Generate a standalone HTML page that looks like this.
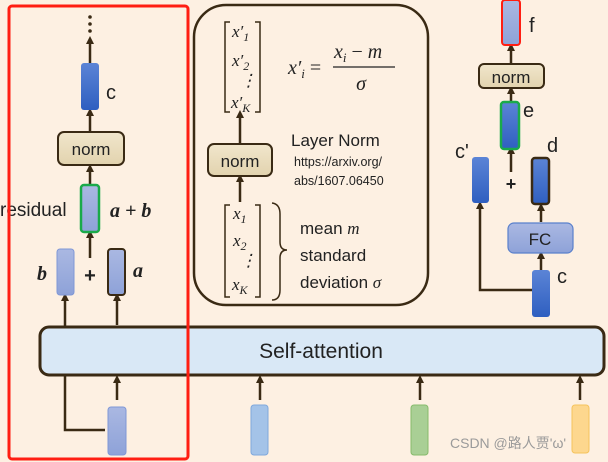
<!DOCTYPE html>
<html><head><meta charset="utf-8"><style>
html,body{margin:0;padding:0;background:#fdf0e2;}
svg{display:block;}
text{font-family:"Liberation Sans",sans-serif;fill:#222;}
.m{font-family:"Liberation Serif",serif;font-style:italic;}
</style></head><body>
<svg width="608" height="462" viewBox="0 0 608 462" xmlns="http://www.w3.org/2000/svg">
<defs>
<linearGradient id="db" x1="0" y1="0" x2="0" y2="1"><stop offset="0" stop-color="#5b84d6"/><stop offset="1" stop-color="#2f5fc0"/></linearGradient>
<linearGradient id="lb" x1="0" y1="0" x2="0" y2="1"><stop offset="0" stop-color="#aab8e2"/><stop offset="1" stop-color="#8ea2d8"/></linearGradient>
<linearGradient id="nm" x1="0" y1="0" x2="0" y2="1"><stop offset="0" stop-color="#f1e6cc"/><stop offset="1" stop-color="#e2d3ae"/></linearGradient>
<marker id="ar" markerWidth="8" markerHeight="8" refX="4" refY="4" orient="auto" markerUnits="userSpaceOnUse"><path d="M0,0 L8,4 L0,8 z" fill="#3a2a14"/></marker>
</defs>
<g stroke="#3a2a14" stroke-width="2.5" fill="none">
<!-- left column arrows -->
<line x1="90" y1="63" x2="90" y2="40" marker-end="url(#ar)"/>
<line x1="90" y1="132" x2="90" y2="112" marker-end="url(#ar)"/>
<line x1="90" y1="185" x2="90" y2="168" marker-end="url(#ar)"/>
<line x1="90" y1="258" x2="90" y2="234" marker-end="url(#ar)"/>
<line x1="117" y1="325" x2="117" y2="297" marker-end="url(#ar)"/>
<polyline points="105,430 65,430 65,297" marker-end="url(#ar)"/>
<line x1="117" y1="400" x2="117" y2="379" marker-end="url(#ar)"/>
<line x1="260" y1="400" x2="260" y2="379" marker-end="url(#ar)"/>
<line x1="420" y1="400" x2="420" y2="379" marker-end="url(#ar)"/>
<line x1="580" y1="400" x2="580" y2="379" marker-end="url(#ar)"/>
<!-- middle arrows -->
<line x1="240" y1="144" x2="240" y2="114" marker-end="url(#ar)"/>
<line x1="240" y1="202" x2="240" y2="178" marker-end="url(#ar)"/>
<!-- right arrows -->
<line x1="511" y1="63" x2="511" y2="47" marker-end="url(#ar)"/>
<line x1="511" y1="101" x2="511" y2="90" marker-end="url(#ar)"/>
<line x1="511" y1="172" x2="511" y2="150" marker-end="url(#ar)"/>
<line x1="541" y1="222" x2="541" y2="207" marker-end="url(#ar)"/>
<line x1="541" y1="270" x2="541" y2="255" marker-end="url(#ar)"/>
<polyline points="532,290 480,290 480,205" marker-end="url(#ar)"/>
</g>
<!-- dots -->
<g fill="#3a2a14"><circle cx="90" cy="17" r="1.8"/><circle cx="90" cy="24" r="1.8"/><circle cx="90" cy="31" r="1.8"/></g>
<!-- left column -->
<rect x="81" y="63" width="18" height="47" rx="3" fill="url(#db)"/>
<text x="106" y="99" font-size="20" fill="#333">c</text>
<rect x="58" y="132" width="66" height="33" rx="6" fill="url(#nm)" stroke="#3a2a14" stroke-width="2"/>
<text x="91" y="155" font-size="17" text-anchor="middle">norm</text>
<rect x="81" y="185" width="18" height="47" rx="3" fill="url(#lb)" stroke="#1aaa4a" stroke-width="2.5"/>
<text x="0" y="216" font-size="19">residual</text>
<text x="110" y="217" font-size="20" class="m" font-weight="bold">a + b</text>
<rect x="57" y="249" width="17" height="46" rx="3" fill="url(#lb)" stroke="#7f97d6" stroke-width="1"/>
<text x="37" y="280" font-size="20" class="m" font-weight="bold">b</text>
<text x="90" y="282" font-size="20" font-weight="bold" text-anchor="middle">+</text>
<rect x="108" y="249" width="17" height="46" rx="3" fill="url(#lb)" stroke="#3a2a14" stroke-width="2"/>
<text x="133" y="277" font-size="20" class="m" font-weight="bold">a</text>
<!-- self-attention -->
<rect x="40" y="327" width="564" height="48" rx="9" fill="#d9e8f6" stroke="#3a2a14" stroke-width="3"/>
<text x="321" y="358" font-size="21" text-anchor="middle">Self-attention</text>
<!-- bottom bars -->
<rect x="108" y="407" width="18" height="48" rx="3" fill="url(#lb)" stroke="#7f97d6"/>
<rect x="251" y="405" width="17" height="50" rx="3" fill="#a4c3e8" stroke="#7fa8dc"/>
<rect x="411" y="405" width="17" height="50" rx="3" fill="#a9cf95" stroke="#86bb6c"/>
<rect x="572" y="405" width="17" height="48" rx="3" fill="#fdd78e" stroke="#f5c35c"/>
<!-- red box -->
<rect x="9" y="6" width="179" height="453" rx="3" fill="none" stroke="#ff1e12" stroke-width="3"/>
<!-- middle box -->
<rect x="194" y="5" width="234" height="300" rx="32" fill="none" stroke="#3a2a14" stroke-width="2.5"/>
<g stroke="#3a2a14" stroke-width="1.5" fill="none">
<polyline points="230,22 225,22 225,112 230,112"/>
<polyline points="255,22 260,22 260,112 255,112"/>
<polyline points="230,205 225,205 225,297 230,297"/>
<polyline points="255,205 260,205 260,297 255,297"/>
<path d="M272,203 Q280,204 280,214 L280,242 Q280,250 287,250 Q280,250 280,258 L280,290 Q280,300 272,300"/>
</g>
<g class="m" font-size="17" fill="#222">
<text x="232" y="37" class="m">x′<tspan font-size="12" dy="4">1</tspan></text>
<text x="232" y="66" class="m">x′<tspan font-size="12" dy="4">2</tspan></text>
<text x="240" y="86" class="m" font-style="normal">⋮</text>
<text x="231" y="108" class="m">x′<tspan font-size="12" dy="4">K</tspan></text>
<text x="233" y="219" class="m">x<tspan font-size="12" dy="4">1</tspan></text>
<text x="233" y="246" class="m">x<tspan font-size="12" dy="4">2</tspan></text>
<text x="240" y="266" class="m" font-style="normal">⋮</text>
<text x="232" y="290" class="m">x<tspan font-size="12" dy="4">K</tspan></text>
<text x="288" y="74" class="m" font-size="20">x′<tspan font-size="13" dy="4">i</tspan><tspan dy="-4" font-style="normal"> =</tspan></text>
<text x="334" y="58" class="m" font-size="20">x<tspan font-size="13" dy="4">i</tspan><tspan dy="-4" font-style="normal"> − </tspan>m</text>
<text x="361" y="90" class="m" font-size="20" text-anchor="middle">σ</text>
</g>
<line x1="333" y1="67" x2="395" y2="67" stroke="#222" stroke-width="1.3"/>
<rect x="208" y="144" width="64" height="32" rx="6" fill="url(#nm)" stroke="#3a2a14" stroke-width="2"/>
<text x="240" y="167" font-size="17" text-anchor="middle">norm</text>
<text x="291" y="146" font-size="17">Layer Norm</text>
<text x="294" y="166" font-size="12.5">https://arxiv.org/</text>
<text x="294" y="185" font-size="12.5">abs/1607.06450</text>
<text x="300" y="234" font-size="17">mean <tspan class="m">m</tspan></text>
<text x="300" y="261" font-size="17">standard</text>
<text x="300" y="288" font-size="17">deviation <tspan class="m">σ</tspan></text>
<!-- right side -->
<rect x="502" y="0" width="18" height="45" rx="3" fill="url(#lb)" stroke="#ff1e12" stroke-width="2"/>
<text x="529" y="32" font-size="20" fill="#333">f</text>
<rect x="479" y="64" width="65" height="24" rx="5" fill="url(#nm)" stroke="#3a2a14" stroke-width="2"/>
<text x="511" y="83" font-size="17" text-anchor="middle">norm</text>
<rect x="501" y="102" width="18" height="47" rx="3" fill="url(#db)" stroke="#1aaa4a" stroke-width="2.5"/>
<text x="523" y="117" font-size="20" fill="#333">e</text>
<rect x="472" y="157" width="17" height="46" rx="3" fill="url(#db)"/>
<text x="455" y="158" font-size="20" fill="#333">c'</text>
<text x="511" y="190" font-size="18" font-weight="bold" text-anchor="middle">+</text>
<rect x="532" y="158" width="17" height="46" rx="3" fill="url(#db)" stroke="#3a2a14" stroke-width="2.5"/>
<text x="547" y="152" font-size="20" fill="#333">d</text>
<rect x="508" y="223" width="65" height="30" rx="6" fill="url(#lb)" stroke="#5a80cc" stroke-width="1.2"/>
<text x="540" y="245" font-size="17" text-anchor="middle">FC</text>
<rect x="532" y="270" width="18" height="47" rx="3" fill="url(#db)"/>
<text x="557" y="283" font-size="20" fill="#333">c</text>
<text x="450" y="448" font-size="14" fill="#aaa" style="font-family:'Liberation Sans','Noto Sans CJK SC',sans-serif;fill:#9a9a9a">CSDN @路人贾'ω'</text>
</svg>
</body></html>
